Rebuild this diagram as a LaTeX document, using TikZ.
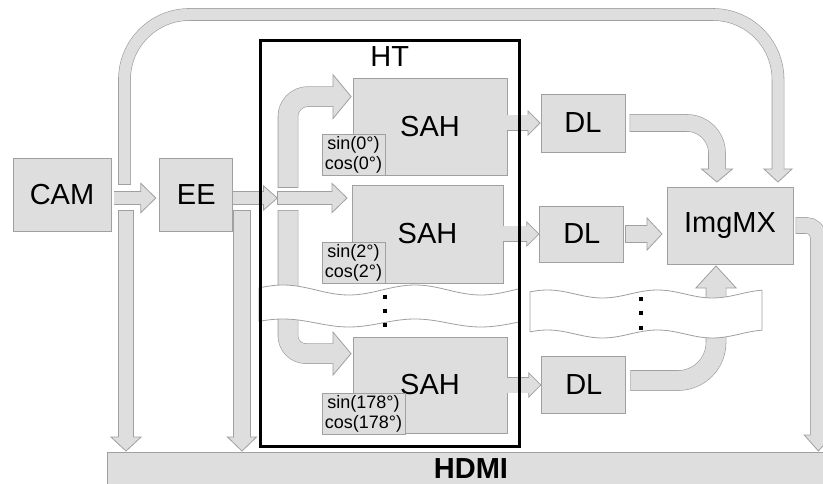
\documentclass[tikz,border=0pt]{standalone}
\usepackage{fontspec}
\setmainfont{Liberation Sans}
\usetikzlibrary{arrows.meta,positioning,calc}
\definecolor{blkfill}{HTML}{DEDEDE}
\definecolor{blkline}{HTML}{A0A0A0}

\begin{document}
\begin{tikzpicture}[x=1pt,y=-1pt,
  box/.style={draw=blkline,fill=blkfill,line width=0.8pt,inner sep=0pt,
              font=\fontsize{29}{34}\selectfont},
  trig/.style={box,font=\fontsize{18}{20}\selectfont,align=center,
               minimum height=41pt},
  blk/.style n args={3}{line cap=butt,
    preaction={draw=blkline,line width=#1+1.6pt,-,shorten >=#2-1pt,shorten <=-0.8pt},
    draw=blkfill,line width=#1,
    -{Triangle[length=#2,width=#3,line width=0.8pt,color=blkline,fill=blkfill]},
    postaction={draw=blkfill,line width=#1,-,shorten >=#2-2pt}},
  wave/.style={draw=blkline,fill=white,line width=0.8pt},
  lab/.style={font=\fontsize{29}{34}\selectfont}]
\useasboundingbox (0,0) rectangle (823,484);
\clip (0,0) rectangle (823,484);
\fill[white] (0,0) rectangle (823,484);

% blocks
\node[box,minimum width=98pt,minimum height=73pt] (cam) at (62,194.5) {CAM};
\node[box,minimum width=73pt,minimum height=73pt,right=48pt of cam] (ee) {EE};
\node[box,minimum width=154pt,minimum height=97pt] (sah1) at (430,126.5) {SAH};
\node[box,minimum width=151pt,minimum height=98pt] (sah2) at (427.5,234) {SAH};
\node[box,minimum width=154pt,minimum height=96pt] (sah3) at (430,385) {SAH};
\node[trig,minimum width=63pt,anchor=south west] (s1) at ([xshift=-31pt]sah1.south west) {sin(0°)\\cos(0°)};
\node[trig,minimum width=63pt,anchor=south west] (s2) at ([xshift=-30pt]sah2.south west) {sin(2°)\\cos(2°)};
\node[trig,minimum width=83pt,anchor=south west] (s3) at ([xshift=-31pt,yshift=-1pt]sah3.south west) {sin(178°)\\cos(178°)};
\node[box,minimum width=84pt,minimum height=58pt] (dl1) at (583,123) {DL};
\node[box,minimum width=84pt,minimum height=56pt,right=36pt of sah2] (dl2) {DL};
\node[box,minimum width=84pt,minimum height=57pt,right=34pt of sah3] (dl3) {DL};
\node[box,minimum width=126pt,minimum height=77pt] (mx) at (730,225.5) {ImgMX};
\node[box,minimum width=728pt,minimum height=34pt,font=\bfseries\fontsize{29}{34}\selectfont] (hdmi) at (471,469) {HDMI};

% branch points
\coordinate (split) at (278,198);
\coordinate (upst) at (288,187);
\coordinate (dnst) at (288,211);
\coordinate (camup) at (124.5,184);
\coordinate (camdn) at (126,211);
\coordinate (eedn) at (242,211);

% block arrows
\draw[blk={12pt}{16pt}{31pt}] ([xshift=3pt,yshift=-3.5pt]cam.east) -- ([xshift=-3pt,yshift=-3.5pt]ee.west);
\draw[blk={12pt}{15pt}{26pt}] ([yshift=-3.5pt]ee.east) -- (split);
\draw[blk={12pt}{16pt}{31pt}] (split) -- ($(split -| sah2.west)+(-4,0)$);
\draw[blk={19pt}{19pt}{46pt},rounded corners=20pt] (upst) |- ([xshift=-1pt,yshift=-19pt]sah1.north west);
\draw[blk={19pt}{19pt}{45pt},rounded corners=18pt] (dnst) |- ([xshift=-1pt,yshift=-17pt]sah3.north west);
\draw[blk={15pt}{13pt}{26pt}] (sah1.east |- dl1.west) -- (dl1.west);
\draw[blk={15pt}{13pt}{26pt}] (sah2.east) -- (dl2.west);
\draw[blk={15pt}{13pt}{26pt}] (sah3.east |- dl3.west) -- (dl3.west);
\draw[blk={16pt}{14pt}{33pt},rounded corners=30pt] ([xshift=5pt]dl1.east) -| ([xshift=-13pt,yshift=4pt]mx.north);
\draw[blk={16pt}{16pt}{34pt}] ([xshift=2pt]dl2.east) -- ($(mx.west |- dl2.east)+(-4,0)$);
\draw[blk={19pt}{23pt}{42pt},rounded corners=38pt] ([xshift=5pt,yshift=4.5pt]dl3.east) -| ([xshift=-14pt,yshift=-1pt]mx.south);
\draw[blk={15pt}{17pt}{30pt},rounded corners=12pt] ([xshift=3pt]mx.east) -| ($(hdmi.north east)+(-17,0)$);
\draw[blk={14pt}{15pt}{32pt}] (camdn) -- (camdn |- hdmi.north);
\draw[blk={16pt}{15pt}{31pt}] (eedn) -- (eedn |- hdmi.north);
\draw[blk={11pt}{14pt}{30pt},rounded corners=65pt] (camup) -- ++(0,-169.5) -| ([xshift=48pt,yshift=4pt]mx.north);

% cut bands
\draw[wave] plot[domain=259:520,samples=60,smooth] (\x,{290+5*sin((\x-316)*2.7273)})
  -- plot[domain=520:259,samples=60,smooth] (\x,{323+4*sin((\x-316)*2.7273)}) -- cycle;
\draw[wave] plot[domain=530:762,samples=60,smooth] (\x,{294+4*sin((\x-575)*3.2727)})
  -- plot[domain=762:530,samples=60,smooth] (\x,{334+4*sin((\x-575)*3.2727)}) -- cycle;
\foreach \yy in {295,309,323} \fill (383,\yy) rectangle ++(4,4);
\foreach \yy in {297,311,326} \fill (639,\yy) rectangle ++(4,4);

% HT frame
\node[draw=black,line width=3pt,minimum width=259.5pt,minimum height=405pt,inner sep=0pt] (ht) at (389.75,243.5) {};
\node[lab] (htlab) at ([yshift=-17pt]ht.north) {HT};
\end{tikzpicture}
\end{document}
